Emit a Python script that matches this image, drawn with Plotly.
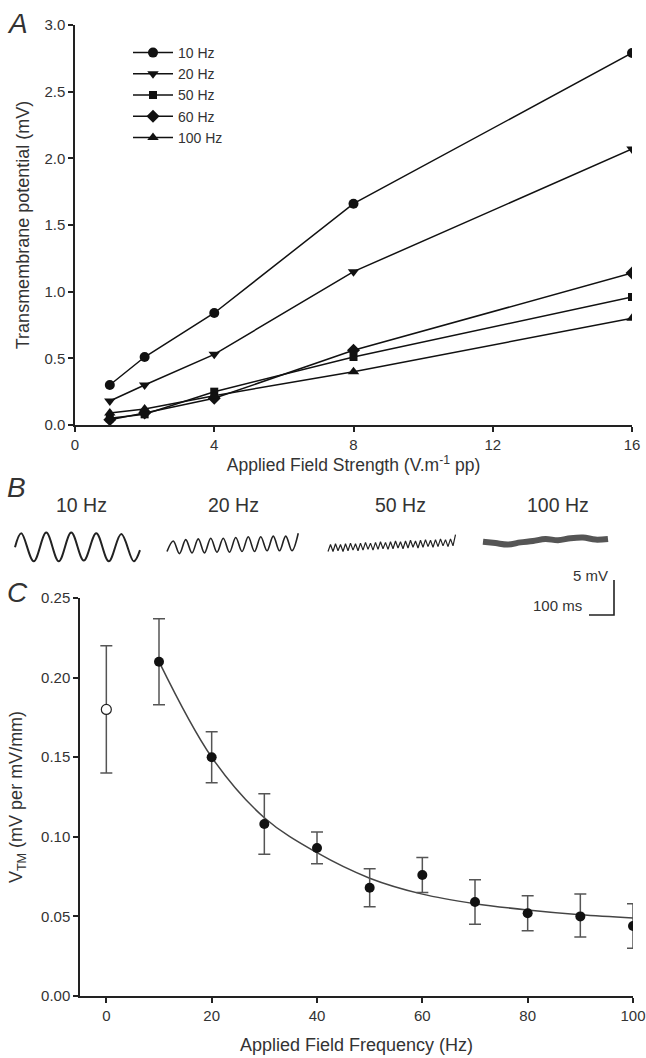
import plotly.graph_objects as go

W, H = 646, 1058
FONT = "Liberation Sans, Arial, sans-serif"
INK = "#222222"
TXT = "#333333"

# ---------------- Panel A data ----------------
FIELD_STRENGTH = [1, 2, 4, 8, 16]
SERIES_NAMES = ["10 Hz", "20 Hz", "50 Hz", "60 Hz", "100 Hz"]
TM_10HZ = [0.30, 0.51, 0.84, 1.66, 2.79]
TM_20HZ = [0.18, 0.30, 0.53, 1.15, 2.07]
TM_50HZ = [0.05, 0.08, 0.25, 0.51, 0.96]
TM_60HZ = [0.04, 0.09, 0.20, 0.56, 1.14]
TM_100HZ = [0.09, 0.12, 0.22, 0.40, 0.80]
A_TICKS_X = [0, 4, 8, 12, 16]

# ---------------- Panel B data (example traces) ----------------
B_LABELS = ["10 Hz", "20 Hz", "50 Hz", "100 Hz"]
# extrema of the recorded traces, mV relative to trace baseline
TRACE_10HZ_T = [0, 25, 75, 125, 175, 225, 275, 325, 375, 425, 475, 500]
TRACE_10HZ_V = [0.0, 2.0, -2.0, 2.1, -2.0, 2.1, -1.9, 2.0, -2.0, 1.9, -2.0, -0.4]
TRACE_20HZ_V = [-0.9, 0.6, -1.2, 0.8, -1.1, 0.9, -1.1, 1.0, -1.0, 1.0, -1.0,
                1.1, -0.9, 1.2, -0.9, 1.2, -0.8, 1.3, -0.8, 1.3, -0.8, 1.7]
TRACE_50HZ_V = [-1.0, 0.0, -1.0, 0.1, -0.9, 0.0, -1.0, 0.1, -0.9, 0.2,
                -0.8, 0.1, -0.9, 0.2, -0.8, 0.3, -0.7, 0.2, -0.8, 0.3,
                -0.7, 0.4, -0.6, 0.3, -0.7, 0.4, -0.6, 0.5, -0.5, 0.4,
                -0.6, 0.5, -0.5, 0.6, -0.4, 0.5, -0.5, 0.6, -0.4, 0.7,
                -0.3, 0.6, -0.4, 0.7, -0.3, 0.8, -0.2, 0.7, -0.3, 0.8,
                -0.2, 1.4]
TRACE_100HZ_V = [0.0, -0.2, -0.4, -0.1, 0.1, 0.4, 0.2, 0.5, 0.6, 0.3, 0.4]
SCALE_MS = 100
SCALE_MV = 5

# ---------------- Panel C data ----------------
FREQ = [10, 20, 30, 40, 50, 60, 70, 80, 90, 100]
VTM = [0.210, 0.150, 0.108, 0.093, 0.068, 0.076, 0.059, 0.052, 0.050, 0.044]
VTM_ERR_UP = [0.027, 0.016, 0.019, 0.010, 0.012, 0.011, 0.014, 0.011, 0.014, 0.014]
VTM_ERR_DN = [0.027, 0.016, 0.019, 0.010, 0.012, 0.011, 0.014, 0.011, 0.013, 0.014]
FREQ_DC = [0]
VTM_DC = [0.180]
VTM_DC_ERR = [0.040]
FIT_FREQ = [10, 20, 30, 40, 50, 60, 70, 80, 90, 100]
FIT_VTM = [0.210, 0.150, 0.112, 0.090, 0.074, 0.064, 0.058, 0.054, 0.051, 0.049]
C_TICKS_X = [0, 20, 40, 60, 80, 100]


def px_x(p):
    return p / W


def px_y(p):
    return 1 - p / H


fig = go.Figure()

# ---- Panel A traces ----
symbols = ["circle", "triangle-down", "square", "diamond", "triangle-up"]
sizes = [10, 10, 8, 10, 10]
for name, vals, sym, sz in zip(SERIES_NAMES,
                               [TM_10HZ, TM_20HZ, TM_50HZ, TM_60HZ, TM_100HZ],
                               symbols, sizes):
    fig.add_trace(go.Scatter(
        x=FIELD_STRENGTH, y=vals, name=name, mode="lines+markers",
        line=dict(color="#111111", width=1.5),
        marker=dict(symbol=sym, size=sz, color="#111111"),
        xaxis="x", yaxis="y", showlegend=True))

# ---- Panel B traces (time in ms, voltage in mV) ----
B_START = {"10": 60, "20": 668, "50": 1312, "100": 1932}
B_BASE = {"10": 11.1, "20": 11.4, "50": 11.5, "100": 11.9}
fig.add_trace(go.Scatter(
    x=[B_START["10"] + t for t in TRACE_10HZ_T],
    y=[B_BASE["10"] + v for v in TRACE_10HZ_V],
    mode="lines", line=dict(color=INK, width=2, shape="spline"),
    xaxis="x3", yaxis="y3", showlegend=False))
fig.add_trace(go.Scatter(
    x0=B_START["20"], dx=25,
    y=[B_BASE["20"] + v for v in TRACE_20HZ_V],
    mode="lines", line=dict(color=INK, width=1.6, shape="spline"),
    xaxis="x3", yaxis="y3", showlegend=False))
fig.add_trace(go.Scatter(
    x0=B_START["50"], dx=10,
    y=[B_BASE["50"] + v for v in TRACE_50HZ_V],
    mode="lines", line=dict(color=INK, width=1.2),
    xaxis="x3", yaxis="y3", showlegend=False))
fig.add_trace(go.Scatter(
    x0=B_START["100"], dx=50,
    y=[B_BASE["100"] + v for v in TRACE_100HZ_V],
    mode="lines", line=dict(color="#555555", width=6, shape="spline"),
    xaxis="x3", yaxis="y3", showlegend=False))
# scale bar
SB_X, SB_Y = 2356, 1.43
fig.add_trace(go.Scatter(
    x=[SB_X, SB_X + SCALE_MS, SB_X + SCALE_MS],
    y=[SB_Y, SB_Y, SB_Y + SCALE_MV],
    mode="lines", line=dict(color=INK, width=1.6),
    xaxis="x3", yaxis="y3", showlegend=False))

# ---- Panel C traces ----
fig.add_trace(go.Scatter(
    x=FIT_FREQ, y=FIT_VTM, mode="lines",
    line=dict(color="#444444", width=1.5, shape="spline"),
    xaxis="x2", yaxis="y2", showlegend=False))
fig.add_trace(go.Scatter(
    x=FREQ, y=VTM, mode="markers",
    marker=dict(symbol="circle", size=10, color="#111111"),
    error_y=dict(type="data", array=VTM_ERR_UP, arrayminus=VTM_ERR_DN,
                 color="#555555", thickness=1.5, width=6),
    xaxis="x2", yaxis="y2", showlegend=False))
fig.add_trace(go.Scatter(
    x=FREQ_DC, y=VTM_DC, mode="markers",
    marker=dict(symbol="circle", size=10, color="white",
                line=dict(color="#222222", width=1.2)),
    error_y=dict(type="data", array=VTM_DC_ERR, color="#555555",
                 thickness=1.5, width=6),
    xaxis="x2", yaxis="y2", showlegend=False))

axis_common = dict(showline=True, linecolor=INK, linewidth=1.5, ticks="outside",
                   ticklen=5, tickwidth=1.5, tickcolor=INK, showgrid=False,
                   zeroline=False, automargin=False,
                   tickfont=dict(size=15, color=TXT, family=FONT))

fig.update_layout(
    width=W, height=H, autosize=False,
    margin=dict(l=0, r=0, t=0, b=0),
    paper_bgcolor="white", plot_bgcolor="rgba(0,0,0,0)",
    font=dict(family=FONT, color=TXT),
    xaxis=dict(domain=[px_x(75), px_x(632)], range=[0, 16], tickvals=A_TICKS_X,
               anchor="y",
               title=dict(text="Applied Field Strength (V.m<sup>-1</sup> pp)",
                          font=dict(size=17.5), standoff=4),
               **axis_common),
    yaxis=dict(domain=[px_y(425), px_y(25)], range=[0, 3], dtick=0.5,
               tickformat=".1f", anchor="x",
               title=dict(text="Transmembrane potential (mV)",
                          font=dict(size=18), standoff=10),
               **axis_common),
    xaxis2=dict(domain=[px_x(80), px_x(633)], range=[-5, 100], tickvals=C_TICKS_X,
                anchor="y2",
                title=dict(text="Applied Field Frequency (Hz)",
                           font=dict(size=18), standoff=16),
                **axis_common),
    yaxis2=dict(domain=[px_y(996), px_y(598)], range=[0, 0.25], dtick=0.05,
                tickformat=".2f", anchor="x2",
                title=dict(text="V<sub>TM</sub> (mV per mV/mm)",
                           font=dict(size=18), standoff=14),
                **axis_common),
    xaxis3=dict(domain=[0, 1], range=[0, 2584], visible=False, anchor="y3"),
    yaxis3=dict(domain=[px_y(625), px_y(520)], range=[0, 15], visible=False,
                anchor="x3"),
    legend=dict(x=px_x(128), y=px_y(37), xanchor="left", yanchor="top",
                font=dict(size=14, color=TXT), bgcolor="rgba(0,0,0,0)",
                itemwidth=40, tracegroupgap=0),
)

ann = []
for letter, yc in [("A", 24), ("B", 488), ("C", 592)]:
    ann.append(dict(text=f"<i>{letter}</i>", x=px_x(5), y=px_y(yc), xref="paper",
                    yref="paper", xanchor="left", yanchor="middle",
                    showarrow=False, font=dict(size=28, color=TXT)))
for lab, xc in zip(B_LABELS, [81, 233, 400, 558]):
    ann.append(dict(text=lab, x=px_x(xc), y=px_y(505), xref="paper", yref="paper",
                    xanchor="center", yanchor="middle", showarrow=False,
                    font=dict(size=19.5, color=TXT)))
ann.append(dict(text=f"{SCALE_MV} mV", x=px_x(610), y=px_y(575), xref="paper",
                yref="paper", xanchor="right", yanchor="middle", showarrow=False,
                font=dict(size=15, color=TXT)))
ann.append(dict(text=f"{SCALE_MS} ms", x=px_x(584), y=px_y(605), xref="paper",
                yref="paper", xanchor="right", yanchor="middle", showarrow=False,
                font=dict(size=15, color=TXT)))
fig.update_layout(annotations=ann)

fig.write_html("out.html",
               config={"displayModeBar": False},
               post_script="document.body.style.margin='0px';"
                           "document.body.style.padding='0px';")
